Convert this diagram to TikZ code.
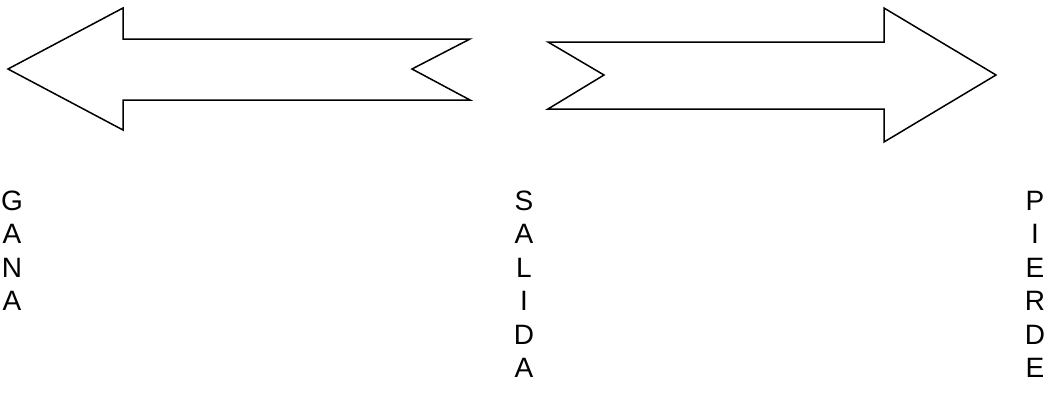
\documentclass[tikz,border=0pt]{standalone}
\usepackage{fontspec}
\setmainfont{Liberation Sans}
\begin{document}
\begin{tikzpicture}[x=1pt,y=-1pt,line width=1.5pt,line join=miter,
    word/.style={align=center,anchor=north,inner sep=0pt,font=\fontsize{28}{33.5}\selectfont}]
            \useasboundingbox (0,0) rectangle (1052,397);
            % flecha izquierda
            \draw (8,69) -- (123,8) -- (123,39) -- (470,39) -- (412,69) -- (470,100) -- (123,100) -- (123,130) -- cycle;
            % flecha derecha
            \draw (548,42) -- (884,42) -- (884,8) -- (996,75) -- (884,142) -- (884,109) -- (548,109) -- (604,75) -- cycle;
            \node[word] (gana) at (12,190) {G\\A\\N\\A};
            \node[word] (salida) at (524,190) {S\\A\\L\\I\\D\\A};
            \node[word] (pierde) at (1035,190) {P\\I\\E\\R\\D\\E};
        \end{tikzpicture}
\end{document}
